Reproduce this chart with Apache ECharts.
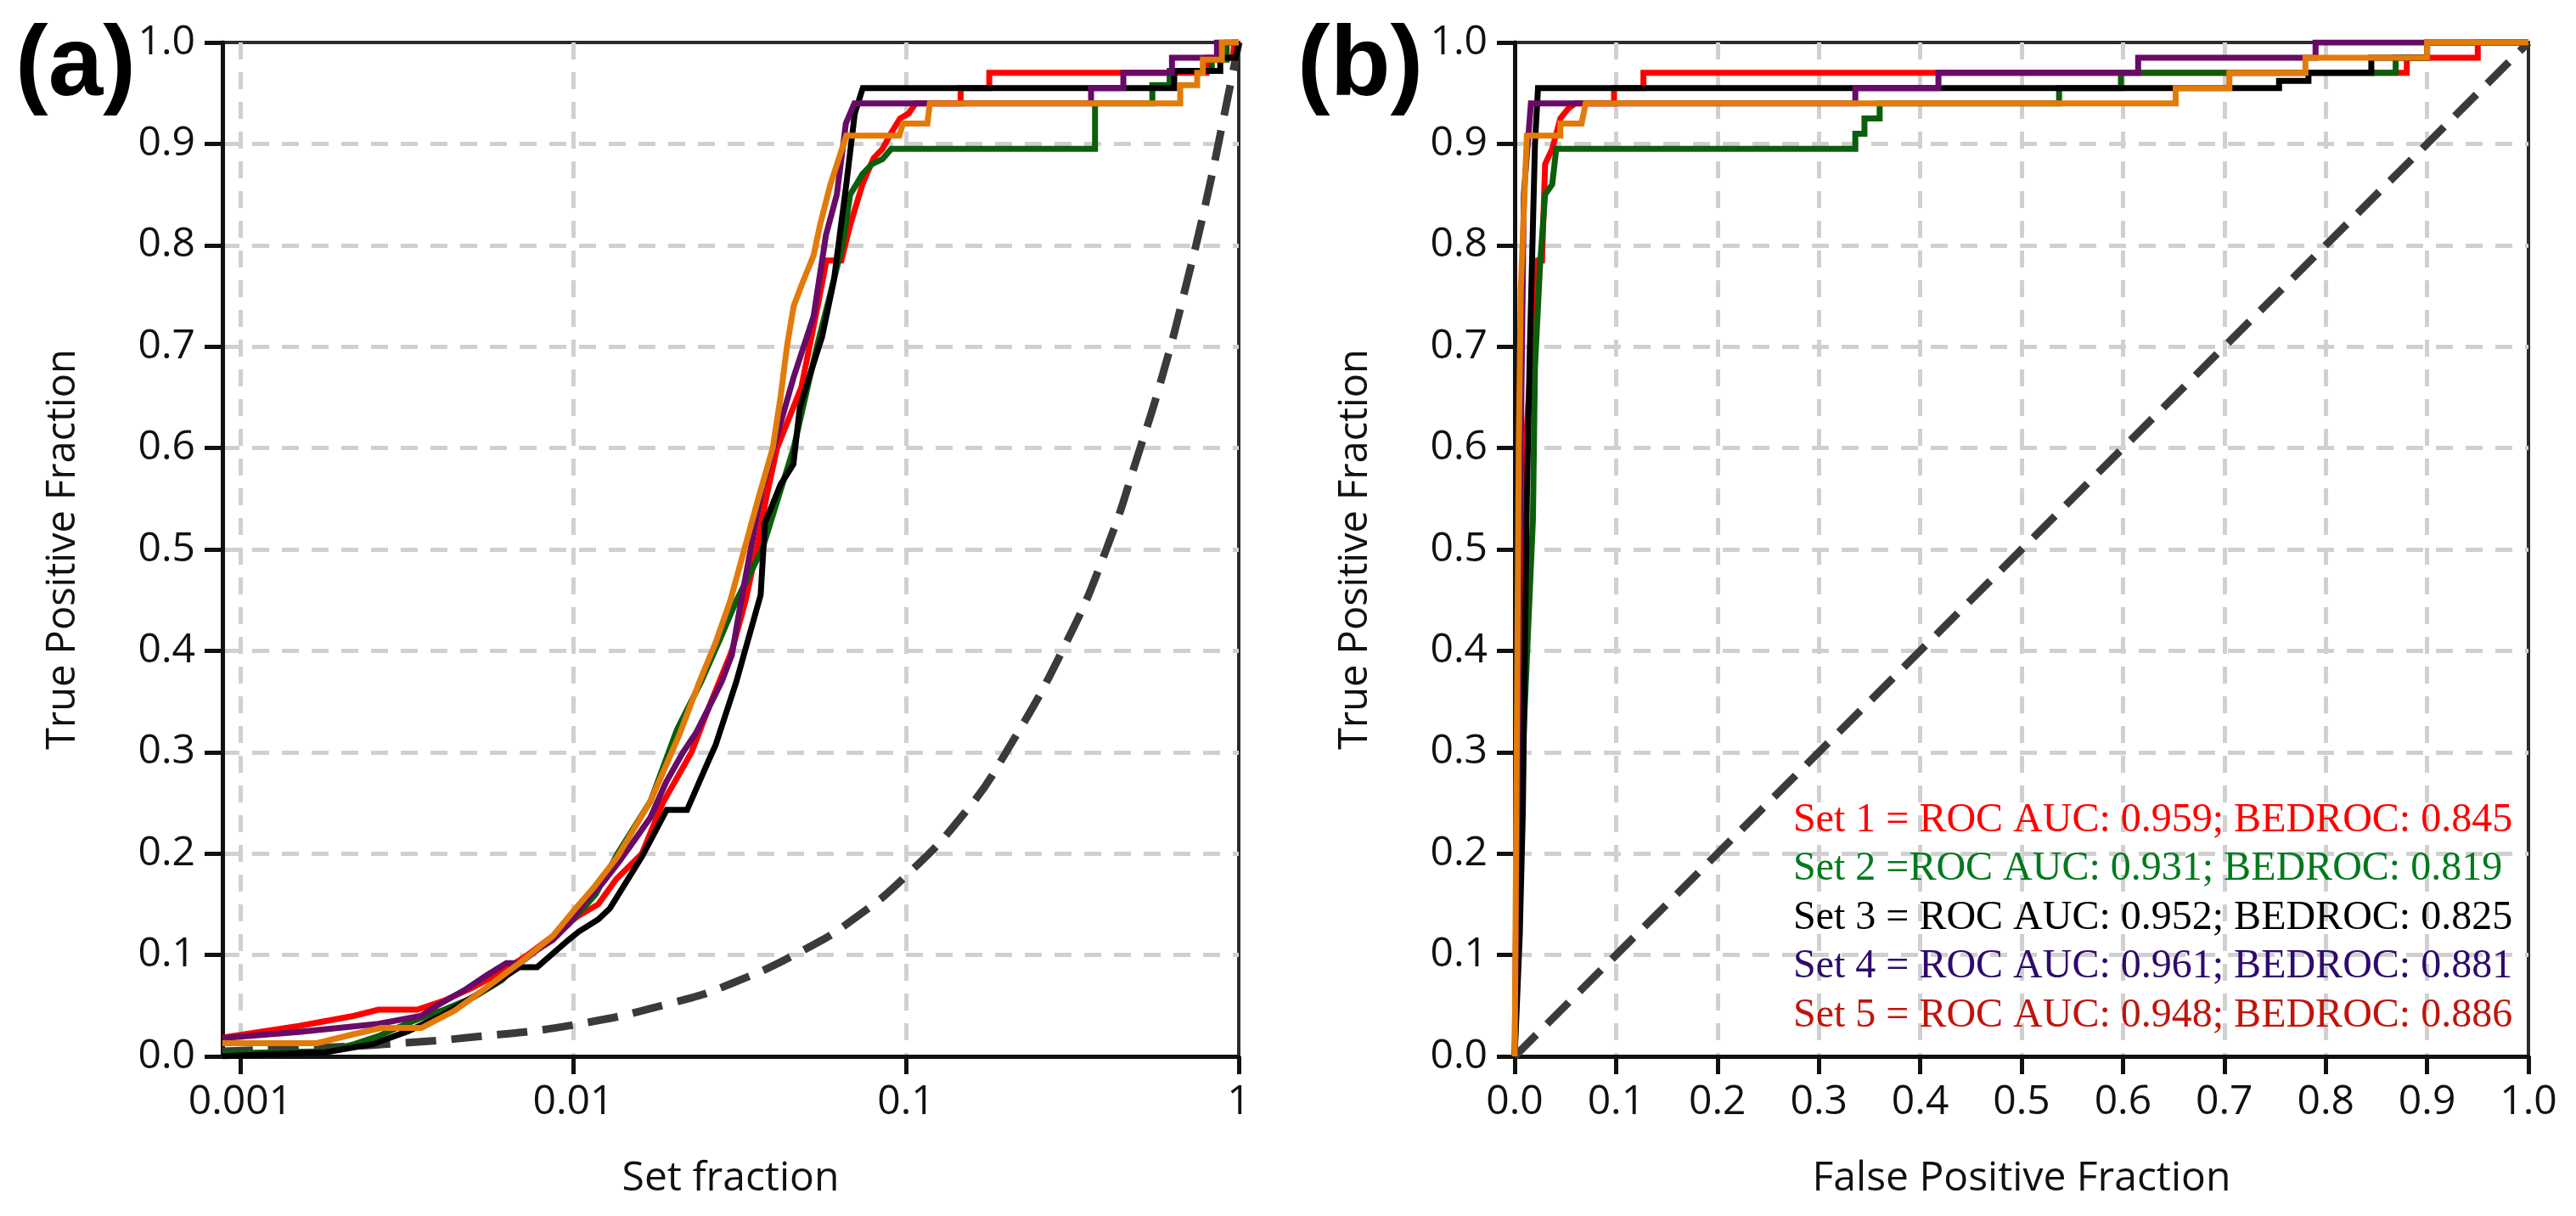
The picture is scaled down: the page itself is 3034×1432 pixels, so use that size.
<!DOCTYPE html>
<html>
<head>
<meta charset="utf-8">
<script src="https://cdn.jsdelivr.net/npm/echarts@6/dist/echarts.min.js"></script>
<style>
html,body{margin:0;padding:0;background:#ffffff;}
#chart{width:3034px;height:1432px;}
</style>
</head>
<body>
<div id="chart"></div>
<script>
// ---------- DATA ----------
// Panel (a): enrichment curves, [set fraction, true positive fraction]
const setFractionMin = 0.000884;
const enrichSet1 = [[0.000884,0.0185],[0.0015,0.03],[0.0022,0.04],[0.0026,0.046],[0.0034,0.046],[0.0041,0.055],[0.005,0.068],[0.006,0.082],[0.0073,0.1],[0.0088,0.12],[0.0103,0.138],[0.0119,0.15],[0.0135,0.175],[0.0161,0.2],[0.0186,0.25],[0.0227,0.3],[0.026,0.35],[0.03,0.4],[0.033,0.45],[0.0356,0.5],[0.038,0.55],[0.041,0.6],[0.0485,0.66],[0.0543,0.74],[0.0577,0.785],[0.064,0.785],[0.068,0.82],[0.074,0.86],[0.08,0.886],[0.085,0.895],[0.09,0.91],[0.096,0.925],[0.102,0.93],[0.107,0.94],[0.146,0.94],[0.146,0.955],[0.178,0.955],[0.178,0.97],[0.8,0.97],[0.8,0.985],[0.96,0.985],[0.97,1],[1,1]];
const enrichSet2 = [[0.000884,0.003],[0.0018,0.005],[0.0022,0.012],[0.0026,0.02],[0.003,0.029],[0.0035,0.038],[0.0041,0.046],[0.005,0.058],[0.0061,0.075],[0.0069,0.092],[0.0083,0.112],[0.01,0.135],[0.0117,0.16],[0.0136,0.2],[0.0171,0.252],[0.0205,0.322],[0.0242,0.369],[0.0275,0.41],[0.031,0.45],[0.037,0.5],[0.046,0.6],[0.054,0.7],[0.0645,0.8],[0.068,0.85],[0.074,0.87],[0.079,0.88],[0.085,0.885],[0.0903,0.895],[0.37,0.895],[0.37,0.94],[0.55,0.94],[0.55,0.958],[0.62,0.958],[0.62,0.972],[0.83,0.972],[0.83,0.983],[0.92,0.983],[0.92,1],[1,1]];
const enrichSet3 = [[0.000884,0.0],[0.0012,0.002],[0.0018,0.004],[0.0025,0.012],[0.0032,0.025],[0.004,0.04],[0.0048,0.055],[0.0057,0.07],[0.0069,0.088],[0.0078,0.088],[0.0097,0.115],[0.0104,0.123],[0.0119,0.135],[0.0129,0.146],[0.0161,0.197],[0.0191,0.243],[0.022,0.243],[0.0254,0.29],[0.0268,0.307],[0.0309,0.369],[0.0366,0.455],[0.0377,0.526],[0.042,0.564],[0.0459,0.584],[0.048,0.64],[0.051,0.668],[0.056,0.71],[0.0608,0.766],[0.0662,0.86],[0.0702,0.93],[0.0742,0.955],[0.64,0.955],[0.64,0.972],[0.88,0.972],[0.88,0.985],[0.98,0.985],[1,1]];
const enrichSet4 = [[0.000884,0.018],[0.0015,0.024],[0.0026,0.032],[0.0035,0.04],[0.0039,0.05],[0.0047,0.065],[0.0055,0.08],[0.0063,0.092],[0.0069,0.092],[0.0078,0.105],[0.0087,0.115],[0.0098,0.132],[0.0109,0.154],[0.0122,0.17],[0.0136,0.19],[0.0152,0.212],[0.0171,0.236],[0.019,0.27],[0.0213,0.299],[0.0235,0.32],[0.0254,0.342],[0.028,0.37],[0.03,0.396],[0.032,0.45],[0.0346,0.51],[0.037,0.56],[0.04,0.6],[0.046,0.67],[0.0528,0.73],[0.0575,0.81],[0.062,0.85],[0.066,0.92],[0.07,0.94],[0.36,0.94],[0.36,0.955],[0.45,0.955],[0.45,0.97],[0.63,0.97],[0.63,0.985],[0.86,0.985],[0.86,1],[1,1]];
const enrichSet5 = [[0.000884,0.013],[0.0017,0.013],[0.0022,0.022],[0.00265,0.028],[0.0035,0.028],[0.0044,0.045],[0.0055,0.068],[0.0069,0.092],[0.0087,0.119],[0.01,0.143],[0.0115,0.166],[0.0136,0.197],[0.0171,0.252],[0.0192,0.29],[0.0209,0.318],[0.024,0.37],[0.0268,0.408],[0.0297,0.45],[0.0327,0.5],[0.036,0.55],[0.0398,0.6],[0.042,0.65],[0.0439,0.7],[0.046,0.74],[0.0485,0.76],[0.0528,0.79],[0.0552,0.82],[0.0593,0.86],[0.0662,0.908],[0.0955,0.908],[0.098,0.92],[0.116,0.92],[0.118,0.94],[0.667,0.94],[0.667,0.958],[0.75,0.958],[0.75,0.97],[0.78,0.97],[0.78,0.983],[0.89,0.983],[0.89,1],[1,1]];
const enrichRandom = [[0.000884,0.005],[0.002,0.0095],[0.003,0.013],[0.005,0.019],[0.01,0.031],[0.02,0.053],[0.03,0.072],[0.05,0.106],[0.07,0.136],[0.1,0.178],[0.15,0.24],[0.2,0.3],[0.3,0.405],[0.4,0.5],[0.5,0.595],[0.6,0.68],[0.7,0.765],[0.8,0.845],[0.9,0.925],[1,1]];

// Panel (b): ROC curves, [false positive fraction, true positive fraction]
const rocSet1 = [[0,0],[0.004,0.2],[0.008,0.45],[0.012,0.62],[0.018,0.72],[0.023,0.785],[0.027,0.785],[0.03,0.88],[0.037,0.895],[0.045,0.925],[0.053,0.935],[0.06,0.94],[0.098,0.94],[0.098,0.955],[0.127,0.955],[0.127,0.97],[0.88,0.97],[0.88,0.985],[0.95,0.985],[0.95,1],[1,1]];
const rocSet2 = [[0,0],[0.008,0.3],[0.018,0.53],[0.02,0.68],[0.025,0.78],[0.03,0.85],[0.037,0.86],[0.041,0.895],[0.336,0.895],[0.336,0.91],[0.345,0.91],[0.345,0.925],[0.36,0.925],[0.36,0.94],[0.537,0.94],[0.537,0.955],[0.598,0.955],[0.598,0.97],[0.869,0.97],[0.869,0.985],[0.9,0.985],[0.9,1],[1,1]];
const rocSet3 = [[0,0],[0.005,0.12],[0.008,0.24],[0.012,0.55],[0.015,0.7],[0.02,0.9],[0.023,0.955],[0.754,0.955],[0.754,0.962],[0.783,0.962],[0.783,0.97],[0.845,0.97],[0.845,0.985],[0.9,0.985],[0.9,1],[1,1]];
const rocSet4 = [[0,0],[0.003,0.3],[0.006,0.6],[0.009,0.85],[0.016,0.94],[0.336,0.94],[0.336,0.955],[0.418,0.955],[0.418,0.97],[0.615,0.97],[0.615,0.985],[0.79,0.985],[0.79,1],[1,1]];
const rocSet5 = [[0,0],[0.002,0.3],[0.004,0.6],[0.006,0.756],[0.012,0.908],[0.045,0.908],[0.045,0.92],[0.066,0.92],[0.07,0.94],[0.652,0.94],[0.652,0.955],[0.705,0.955],[0.705,0.97],[0.78,0.97],[0.78,0.985],[0.9,0.985],[0.9,1],[1,1]];
const rocRandom = [[0,0],[1,1]];

const setNames = ['Set 1','Set 2','Set 3','Set 4','Set 5'];
const curveColors = ['#ff0000','#0b5e0b','#000000','#680a68','#e27b0a'];
const legendTexts = [
  'Set 1 = ROC AUC: 0.959; BEDROC: 0.845',
  'Set 2 =ROC AUC: 0.931; BEDROC: 0.819',
  'Set 3 = ROC AUC: 0.952; BEDROC: 0.825',
  'Set 4 = ROC AUC: 0.961; BEDROC: 0.881',
  'Set 5 = ROC AUC: 0.948; BEDROC: 0.886'
];
const legendColors = ['#ff0000','#00791e','#000000','#2e0a6c','#c0140a'];
const panelLabels = ['(a)','(b)'];

// ---------- CHART ----------
const sansFont = "'Open Sans', 'Noto Sans', sans-serif";
const serifFont = "'Liberation Serif', 'DejaVu Serif', serif";
const ink = '#111111';

const gridStyle = {show:true, borderColor:'#2b2b2b', borderWidth:4, backgroundColor:'transparent', outerBoundsMode:'none', containLabel:false};
const splitStyle = {show:true, showMinLine:false, showMaxLine:false, lineStyle:{color:'#d0d0d0', width:5, type:[20,15]}};
const lineAxis = {show:true, onZero:false, lineStyle:{color:ink, width:5}};
const tickStyle = {show:true, inside:false, length:21, lineStyle:{color:ink, width:5}};

function yAxisOpt(gi){
  return {
    type:'value', gridIndex:gi, min:0, max:1, interval:0.1,
    name:'True Positive Fraction', nameLocation:'middle', nameGap:164,
    nameTextStyle:{fontFamily:sansFont, fontSize:47, color:ink},
    axisLine:lineAxis, axisTick:tickStyle,
    axisLabel:{margin:32, fontFamily:sansFont, fontSize:48, color:ink, formatter:v=>v.toFixed(1)},
    splitLine:splitStyle
  };
}

const seriesList = [];
function addLine(name, data, xi, color, width, dashed, smooth){
  seriesList.push({
    name:name, type:'line', xAxisIndex:xi, yAxisIndex:xi, data:data,
    showSymbol:false, symbol:'none', smooth:!!smooth, animation:false,
    lineStyle:{color:color, width:width, type: dashed ? [36,18] : 'solid', cap:'butt', join:'miter'},
    emphasis:{disabled:true}
  });
}
addLine('Random', enrichRandom, 0, '#3a3a3a', 9, true, true);
addLine('Random', rocRandom, 1, '#3a3a3a', 9, true, false);
const enrichSets = [enrichSet1, enrichSet2, enrichSet3, enrichSet4, enrichSet5];
const rocSets = [rocSet1, rocSet2, rocSet3, rocSet4, rocSet5];
enrichSets.forEach((d,i)=>addLine(setNames[i], d, 0, curveColors[i], 7, false, false));
rocSets.forEach((d,i)=>addLine(setNames[i], d, 1, curveColors[i], 7, false, false));

const graphics = [];
const letterFont = "'Liberation Sans', Arial, sans-serif";
graphics.push({type:'text', x:18, y:80, style:{text:panelLabels[0], fontSize:116, fontWeight:'bold', fontFamily:letterFont, fill:'#000', align:'left', textAlign:'left', verticalAlign:'middle', textVerticalAlign:'middle'}});
graphics.push({type:'text', x:1528, y:80, style:{text:panelLabels[1], fontSize:116, fontWeight:'bold', fontFamily:letterFont, fill:'#000', align:'left', textAlign:'left', verticalAlign:'middle', textVerticalAlign:'middle'}});
legendTexts.forEach((t,i)=>{
  graphics.push({type:'text', x:2112, y:966 + i*57.5, z:10, style:{text:t, fontSize:48, fontFamily:serifFont, fill:legendColors[i], align:'left', textAlign:'left', verticalAlign:'middle', textVerticalAlign:'middle'}});
});

const option = {
  backgroundColor:'#ffffff',
  animation:false,
  grid:[
    Object.assign({left:262, top:50, width:1197, height:1194}, gridStyle),
    Object.assign({left:1784, top:50, width:1194, height:1194}, gridStyle)
  ],
  xAxis:[
    {
      type:'log', logBase:10, gridIndex:0, min:setFractionMin, max:1,
      name:'Set fraction', nameLocation:'middle', nameGap:120,
      nameTextStyle:{fontFamily:sansFont, fontSize:48, color:ink},
      axisLine:lineAxis, axisTick:tickStyle, minorTick:{show:false},
      axisLabel:{margin:30, fontFamily:sansFont, fontSize:48, color:ink, showMinLabel:false,
        formatter:v=>String(+Number(v).toPrecision(6))},
      splitLine:splitStyle, minorSplitLine:{show:false}
    },
    {
      type:'value', gridIndex:1, min:0, max:1, interval:0.1,
      name:'False Positive Fraction', nameLocation:'middle', nameGap:120,
      nameTextStyle:{fontFamily:sansFont, fontSize:48, color:ink},
      axisLine:lineAxis, axisTick:tickStyle,
      axisLabel:{margin:30, fontFamily:sansFont, fontSize:48, color:ink, formatter:v=>v.toFixed(1)},
      splitLine:splitStyle
    }
  ],
  yAxis:[yAxisOpt(0), yAxisOpt(1)],
  series:seriesList,
  graphic:graphics
};

const chart = echarts.init(document.getElementById('chart'), null, {renderer:'canvas', width:3034, height:1432});
chart.setOption(option);
</script>
</body>
</html>
